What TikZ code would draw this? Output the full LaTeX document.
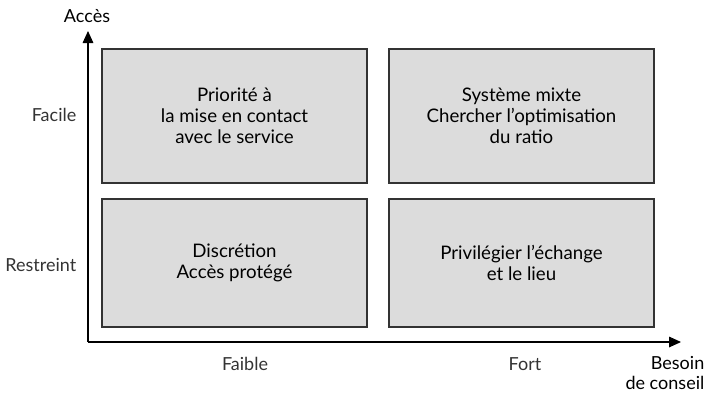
\documentclass[tikz,border=0pt]{standalone}
\usepackage{fontspec}
\setmainfont{Lato}
\usetikzlibrary{arrows.meta}

\definecolor{boxfill}{HTML}{DCDCDC}
\definecolor{boxline}{HTML}{333333}

\begin{document}
\begin{tikzpicture}[
    x=0.75pt, y=-0.75pt,
    >={Triangle[length=9pt, width=8pt]},
    axis/.style={->, line width=0.8pt, color=black},
    cell/.style={draw=boxline, fill=boxfill, line width=0.9pt, minimum width=198.75pt,
                 align=center, font=\fontsize{14}{15.6}\selectfont, inner sep=0pt},
    tick/.style={font=\fontsize{13.5}{15}\selectfont, color=black!80},
    title/.style={font=\fontsize{13.5}{15.6}\selectfont}
]

    % Page frame
    \useasboundingbox (0,0) rectangle (721,393);

    % Axes
    \coordinate (O) at (88,342);
    \coordinate (ytip) at (88,31);
    \coordinate (xtip) at (681,342);
    \draw[axis] (O) -- (ytip);
    \draw[axis] (O) -- (xtip);
    \node[title] (acces) at (87,16) {Accès};
    \node[title, align=right, anchor=east] (besoin) at (709,373) {Besoin\\de conseil};

    % Quadrants
    \node[cell, minimum height=100.5pt] (fa_fa) at (234.5,116) {Priorité à\\la mise en contact\\avec le service};
    \node[cell, minimum height=100.5pt] (fa_fo) at (521.5,116) {Système mixte\\Chercher l’optimisation\\du ratio};
    \node[cell, minimum height=96pt] (re_fa) at (234.5,263) {Discrétion\\Accès protégé};
    \node[cell, minimum height=96pt] (re_fo) at (521.5,263) {Privilégier l’échange\\et le lieu};

    % Levels
    \node[tick, anchor=east] (facile) at (81,115) {Facile};
    \node[tick, anchor=east] (restreint) at (81,265) {Restreint};
    \node[tick] (faible) at (245,364) {Faible};
    \node[tick] (fort) at (525,364) {Fort};

\end{tikzpicture}
\end{document}
